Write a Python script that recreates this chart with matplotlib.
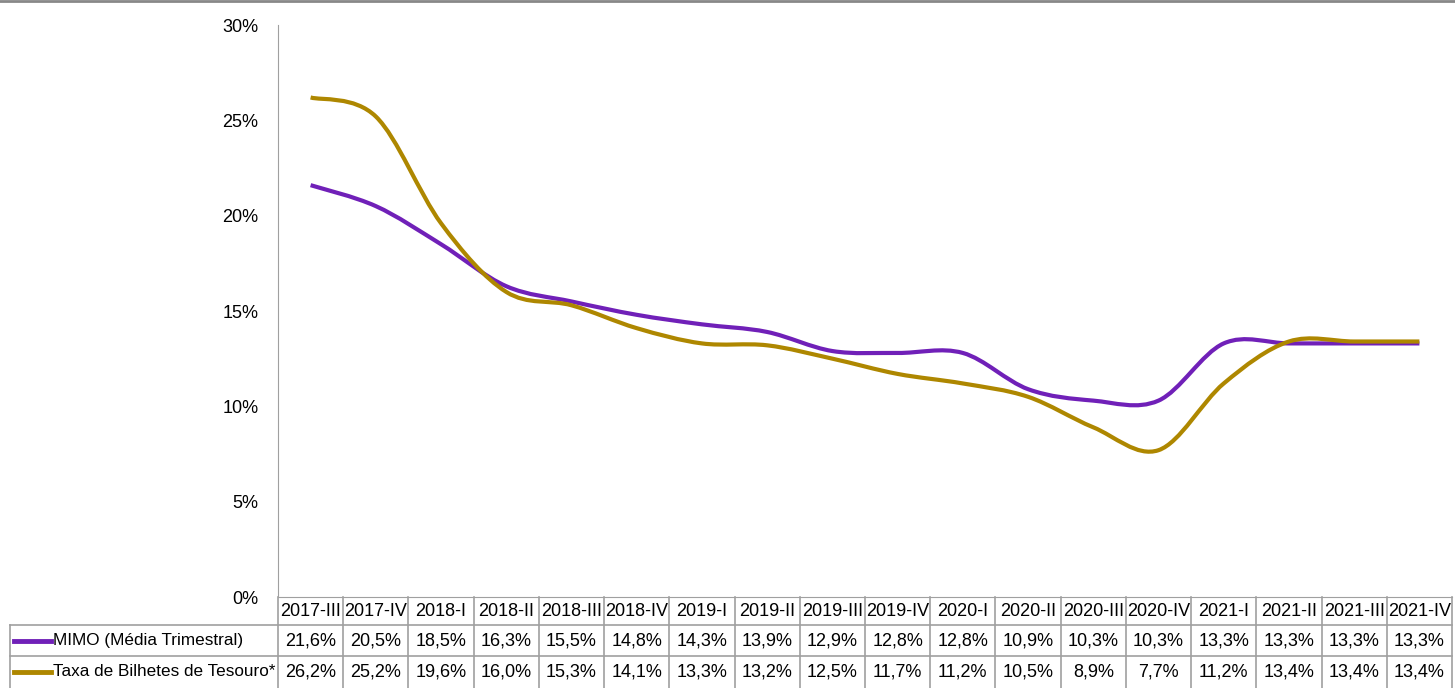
import numpy as np
import matplotlib
matplotlib.use('Agg')
import matplotlib.pyplot as plt
from matplotlib.path import Path
from matplotlib.patches import PathPatch
from matplotlib.lines import Line2D

# Data
quarters = ['2017-III', '2017-IV', '2018-I', '2018-II', '2018-III', '2018-IV',
            '2019-I', '2019-II', '2019-III', '2019-IV', '2020-I', '2020-II',
            '2020-III', '2020-IV', '2021-I', '2021-II', '2021-III', '2021-IV']
mimo = [21.6, 20.5, 18.5, 16.3, 15.5, 14.8, 14.3, 13.9, 12.9, 12.8, 12.8, 10.9,
        10.3, 10.3, 13.3, 13.3, 13.3, 13.3]
bilhetes = [26.2, 25.2, 19.6, 16.0, 15.3, 14.1, 13.3, 13.2, 12.5, 11.7, 11.2, 10.5,
            8.9, 7.7, 11.2, 13.4, 13.4, 13.4]
series_names = ['MIMO (Média Trimestral)', 'Taxa de Bilhetes de Tesouro*']
series_colors = ['#7020B8', '#AE8700']

plt.rcParams['font.family'] = ['Liberation Sans', 'DejaVu Sans']

W, H = 1455, 688
fig = plt.figure(figsize=(W / 100, H / 100), dpi=100)

x_left, x_right = 278, 1452
y_top, y_zero = 25, 597
ax = fig.add_axes([x_left / W, 1 - y_zero / H, (x_right - x_left) / W, (y_zero - y_top) / H])

n = len(quarters)
xs = np.arange(n) + 0.5


def smooth_path(x, y):
    # Excel-like smoothed line: Bezier segments through the data points
    pts = np.column_stack([x, y])
    verts = [pts[0]]
    codes = [Path.MOVETO]
    for i in range(len(pts) - 1):
        p0 = pts[i - 1] if i > 0 else pts[i]
        p1 = pts[i]
        p2 = pts[i + 1]
        p3 = pts[i + 2] if i + 2 < len(pts) else pts[i + 1]
        c1 = p1 + (p2 - p0) / 6
        c2 = p2 - (p3 - p1) / 6
        verts += [c1, c2, p2]
        codes += [Path.CURVE4] * 3
    return Path(verts, codes)


for vals, col in zip([mimo, bilhetes], series_colors):
    ax.add_patch(PathPatch(smooth_path(xs, np.array(vals)), facecolor='none',
                           edgecolor=col, lw=3, capstyle='butt'))

ax.set_xlim(0, n)
ax.set_ylim(0, 30)
ax.set_yticks(np.arange(0, 31, 5))
ax.set_yticklabels([f'{v}%' for v in range(0, 31, 5)], fontsize=13)
ax.tick_params(axis='y', length=0, pad=14)
ax.set_xticks([])
for s in ['top', 'right']:
    ax.spines[s].set_visible(False)
ax.spines['left'].set_color('#A0A0A0')
ax.spines['bottom'].set_color('#A0A0A0')

# Data table below the chart
grid = '#A0A0A0'
col_w = (x_right - x_left) / n
row_y = [597, 625, 656, 688]


def fx(px):
    return px / W


def fy(py):
    return 1 - py / H


# horizontal lines
fig.add_artist(Line2D([fx(10), fx(x_right)], [fy(625), fy(625)], color=grid, lw=1.2))
fig.add_artist(Line2D([fx(10), fx(x_right)], [fy(656), fy(656)], color=grid, lw=1.2))
fig.add_artist(Line2D([fx(10), fx(10)], [fy(625), fy(688)], color=grid, lw=1.2))
# vertical lines
for k in range(n + 1):
    xv = x_left + k * col_w
    fig.add_artist(Line2D([fx(xv), fx(xv)], [fy(597), fy(688)], color=grid, lw=1.2))

# header labels
for k, q in enumerate(quarters):
    xc = x_left + (k + 0.5) * col_w
    fig.text(fx(xc), fy(611), q, ha='center', va='center', fontsize=13)

# rows
for r, (vals, name, col) in enumerate(zip([mimo, bilhetes], series_names, series_colors)):
    yc = (row_y[r + 1] + row_y[r + 2]) / 2
    fig.add_artist(Line2D([fx(14), fx(51)], [fy(yc), fy(yc)], color=col, lw=3.5))
    fig.text(fx(53), fy(yc), name, ha='left', va='center', fontsize=12.3)
    for k, v in enumerate(vals):
        xc = x_left + (k + 0.5) * col_w
        fig.text(fx(xc), fy(yc), f'{v:.1f}%'.replace('.', ','), ha='center',
                 va='center', fontsize=13)

# top gray border
fig.add_artist(Line2D([0, 1], [fy(1), fy(1)], color='#888888', lw=2))

fig.savefig('out.png', dpi=100)
